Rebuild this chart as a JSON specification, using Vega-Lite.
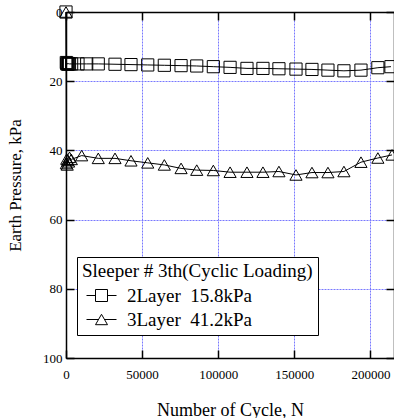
{
  "$schema": "https://vega.github.io/schema/vega-lite/v6.json",
  "width": 328,
  "height": 346,
  "autosize": {"type": "none"},
  "padding": {"left": 66, "top": 12, "right": 0, "bottom": 60},
  "background": "white",
  "config": {
    "font": "Liberation Serif",
    "view": {"stroke": "black", "strokeWidth": 1}
  },
  "data": {
    "values": [
      {"N": 0, "p": 0, "series": "2Layer\u00a0\u00a015.8kPa"},
      {"N": 200, "p": 14.6, "series": "2Layer\u00a0\u00a015.8kPa"},
      {"N": 500, "p": 15.0, "series": "2Layer\u00a0\u00a015.8kPa"},
      {"N": 800, "p": 14.8, "series": "2Layer\u00a0\u00a015.8kPa"},
      {"N": 1200, "p": 15.1, "series": "2Layer\u00a0\u00a015.8kPa"},
      {"N": 1700, "p": 14.9, "series": "2Layer\u00a0\u00a015.8kPa"},
      {"N": 2300, "p": 15.0, "series": "2Layer\u00a0\u00a015.8kPa"},
      {"N": 3700, "p": 15.0, "series": "2Layer\u00a0\u00a015.8kPa"},
      {"N": 7900, "p": 15.0, "series": "2Layer\u00a0\u00a015.8kPa"},
      {"N": 13600, "p": 15.0, "series": "2Layer\u00a0\u00a015.8kPa"},
      {"N": 21200, "p": 15.0, "series": "2Layer\u00a0\u00a015.8kPa"},
      {"N": 32200, "p": 15.1, "series": "2Layer\u00a0\u00a015.8kPa"},
      {"N": 42700, "p": 15.2, "series": "2Layer\u00a0\u00a015.8kPa"},
      {"N": 53700, "p": 15.3, "series": "2Layer\u00a0\u00a015.8kPa"},
      {"N": 64600, "p": 15.4, "series": "2Layer\u00a0\u00a015.8kPa"},
      {"N": 75600, "p": 15.5, "series": "2Layer\u00a0\u00a015.8kPa"},
      {"N": 85900, "p": 15.6, "series": "2Layer\u00a0\u00a015.8kPa"},
      {"N": 96800, "p": 15.8, "series": "2Layer\u00a0\u00a015.8kPa"},
      {"N": 107800, "p": 16.0, "series": "2Layer\u00a0\u00a015.8kPa"},
      {"N": 118900, "p": 16.3, "series": "2Layer\u00a0\u00a015.8kPa"},
      {"N": 129400, "p": 16.3, "series": "2Layer\u00a0\u00a015.8kPa"},
      {"N": 139900, "p": 16.4, "series": "2Layer\u00a0\u00a015.8kPa"},
      {"N": 151100, "p": 16.5, "series": "2Layer\u00a0\u00a015.8kPa"},
      {"N": 161600, "p": 16.6, "series": "2Layer\u00a0\u00a015.8kPa"},
      {"N": 172100, "p": 16.8, "series": "2Layer\u00a0\u00a015.8kPa"},
      {"N": 182600, "p": 17.0, "series": "2Layer\u00a0\u00a015.8kPa"},
      {"N": 193800, "p": 16.8, "series": "2Layer\u00a0\u00a015.8kPa"},
      {"N": 204900, "p": 16.1, "series": "2Layer\u00a0\u00a015.8kPa"},
      {"N": 213500, "p": 15.8, "series": "2Layer\u00a0\u00a015.8kPa"},
      {"N": 0, "p": 0, "series": "3Layer\u00a0\u00a041.2kPa"},
      {"N": 200, "p": 43.8, "series": "3Layer\u00a0\u00a041.2kPa"},
      {"N": 500, "p": 42.5, "series": "3Layer\u00a0\u00a041.2kPa"},
      {"N": 800, "p": 44.2, "series": "3Layer\u00a0\u00a041.2kPa"},
      {"N": 1200, "p": 42.8, "series": "3Layer\u00a0\u00a041.2kPa"},
      {"N": 1700, "p": 43.3, "series": "3Layer\u00a0\u00a041.2kPa"},
      {"N": 2300, "p": 42.0, "series": "3Layer\u00a0\u00a041.2kPa"},
      {"N": 3500, "p": 42.6, "series": "3Layer\u00a0\u00a041.2kPa"},
      {"N": 10300, "p": 41.5, "series": "3Layer\u00a0\u00a041.2kPa"},
      {"N": 21200, "p": 42.3, "series": "3Layer\u00a0\u00a041.2kPa"},
      {"N": 32200, "p": 42.3, "series": "3Layer\u00a0\u00a041.2kPa"},
      {"N": 42700, "p": 43.0, "series": "3Layer\u00a0\u00a041.2kPa"},
      {"N": 53700, "p": 43.6, "series": "3Layer\u00a0\u00a041.2kPa"},
      {"N": 64600, "p": 44.2, "series": "3Layer\u00a0\u00a041.2kPa"},
      {"N": 75600, "p": 45.2, "series": "3Layer\u00a0\u00a041.2kPa"},
      {"N": 85900, "p": 45.7, "series": "3Layer\u00a0\u00a041.2kPa"},
      {"N": 96800, "p": 45.8, "series": "3Layer\u00a0\u00a041.2kPa"},
      {"N": 107800, "p": 46.3, "series": "3Layer\u00a0\u00a041.2kPa"},
      {"N": 118900, "p": 46.3, "series": "3Layer\u00a0\u00a041.2kPa"},
      {"N": 129400, "p": 46.3, "series": "3Layer\u00a0\u00a041.2kPa"},
      {"N": 139900, "p": 46.1, "series": "3Layer\u00a0\u00a041.2kPa"},
      {"N": 151100, "p": 47.1, "series": "3Layer\u00a0\u00a041.2kPa"},
      {"N": 161600, "p": 46.4, "series": "3Layer\u00a0\u00a041.2kPa"},
      {"N": 172100, "p": 46.4, "series": "3Layer\u00a0\u00a041.2kPa"},
      {"N": 182600, "p": 46.1, "series": "3Layer\u00a0\u00a041.2kPa"},
      {"N": 193800, "p": 43.4, "series": "3Layer\u00a0\u00a041.2kPa"},
      {"N": 204900, "p": 42.2, "series": "3Layer\u00a0\u00a041.2kPa"},
      {"N": 214200, "p": 41.3, "series": "3Layer\u00a0\u00a041.2kPa"}
    ]
  },
  "layer": [
    {
      "mark": {"type": "line", "strokeWidth": 1, "color": "black"},
      "encoding": {
        "x": {
          "field": "N", "type": "quantitative",
          "scale": {"domain": [0, 215500], "nice": false, "zero": false},
          "axis": {
            "orient": "bottom", "values": [0, 50000, 100000, 150000, 200000],
            "title": "Number of Cycle, N", "titleFontSize": 18, "titleFont": "Liberation Serif",
            "titleFontWeight": "normal", "titleColor": "black", "titlePadding": 20,
            "labelFont": "Liberation Serif", "labelFontSize": 13, "labelColor": "black", "labelPadding": 18,
            "format": "d", "labelFlush": false,
            "domainColor": "black", "domainWidth": 1.5,
            "tickSize": -8, "tickColor": "black", "tickWidth": 1.5,
            "grid": true, "gridColor": "#7878ff", "gridDash": [2, 1], "gridWidth": 1
          }
        },
        "y": {
          "field": "p", "type": "quantitative",
          "scale": {"domain": [0, 100], "nice": false, "reverse": true},
          "axis": {
            "orient": "left", "values": [0, 20, 40, 60, 80, 100],
            "title": "Earth Pressure, kPa", "titleFontSize": 17, "titleFont": "Liberation Serif",
            "titleFontWeight": "normal", "titleColor": "black", "titlePadding": 18,
            "labelFont": "Liberation Serif", "labelFontSize": 13, "labelColor": "black", "labelPadding": 12,
            "labelFlush": false,
            "domainColor": "black", "domainWidth": 1.5,
            "tickSize": -8, "tickColor": "black", "tickWidth": 1.5,
            "grid": true, "gridColor": "#7878ff", "gridDash": [2, 1], "gridWidth": 1
          }
        },
        "detail": {"field": "series"}
      }
    },
    {
      "mark": {"type": "point", "filled": false, "color": "black", "strokeWidth": 1, "size": 148, "opacity": 1},
      "encoding": {
        "x": {
          "field": "N", "type": "quantitative",
          "axis": {
            "orient": "top", "values": [0, 50000, 100000, 150000, 200000],
            "labels": false, "title": null, "grid": false,
            "domainColor": "black", "domainWidth": 1.5,
            "tickSize": -8, "tickColor": "black", "tickWidth": 1.5
          }
        },
        "y": {
          "field": "p", "type": "quantitative",
          "axis": {
            "orient": "right", "values": [0, 20, 40, 60, 80, 100],
            "labels": false, "title": null, "grid": false,
            "domainColor": "black", "domainWidth": 1.5,
            "tickSize": -8, "tickColor": "black", "tickWidth": 1.5
          }
        },
        "shape": {
          "condition": {"test": "indexof(datum.series, '2Layer') >= 0", "value": "square"},
          "value": "triangle-up"
        }
      }
    },
    {
      "mark": {"type": "point", "filled": false, "color": "black", "strokeWidth": 1, "size": 0},
      "encoding": {
        "x": {"field": "N", "type": "quantitative", "axis": null},
        "y": {"field": "p", "type": "quantitative", "axis": null},
        "shape": {
          "field": "series", "type": "nominal",
          "scale": {
            "domain": ["2Layer\u00a0\u00a015.8kPa", "3Layer\u00a0\u00a041.2kPa"],
            "range": ["M-2.5,0H-1M1,0H2.5M-1,-1H1V1H-1Z", "M-2.5,0H-0.5M0.5,0H2.5M0,-0.866L-1,0.866H1Z"]
          },
          "legend": {
            "orient": "none", "legendX": 11, "legendY": 245,
            "title": "Sleeper # 3th(Cyclic Loading)",
            "titleFont": "Liberation Serif", "titleFontSize": 19, "titleFontWeight": "normal", "titleColor": "black",
            "titlePadding": 5, "titleLimit": 400,
            "labelFont": "Liberation Serif", "labelFontSize": 19, "labelColor": "black", "labelLimit": 400,
            "labelOffset": 16, "symbolOffset": 10, "rowPadding": 4,
            "padding": 5, "strokeColor": "black", "fillColor": "white",
            "symbolSize": 144, "symbolStrokeWidth": 1, "symbolStrokeColor": "black", "symbolFillColor": "transparent",
            "symbolOpacity": 1
          }
        }
      }
    }
  ],
  "resolve": {"axis": {"x": "independent", "y": "independent"}}
}
